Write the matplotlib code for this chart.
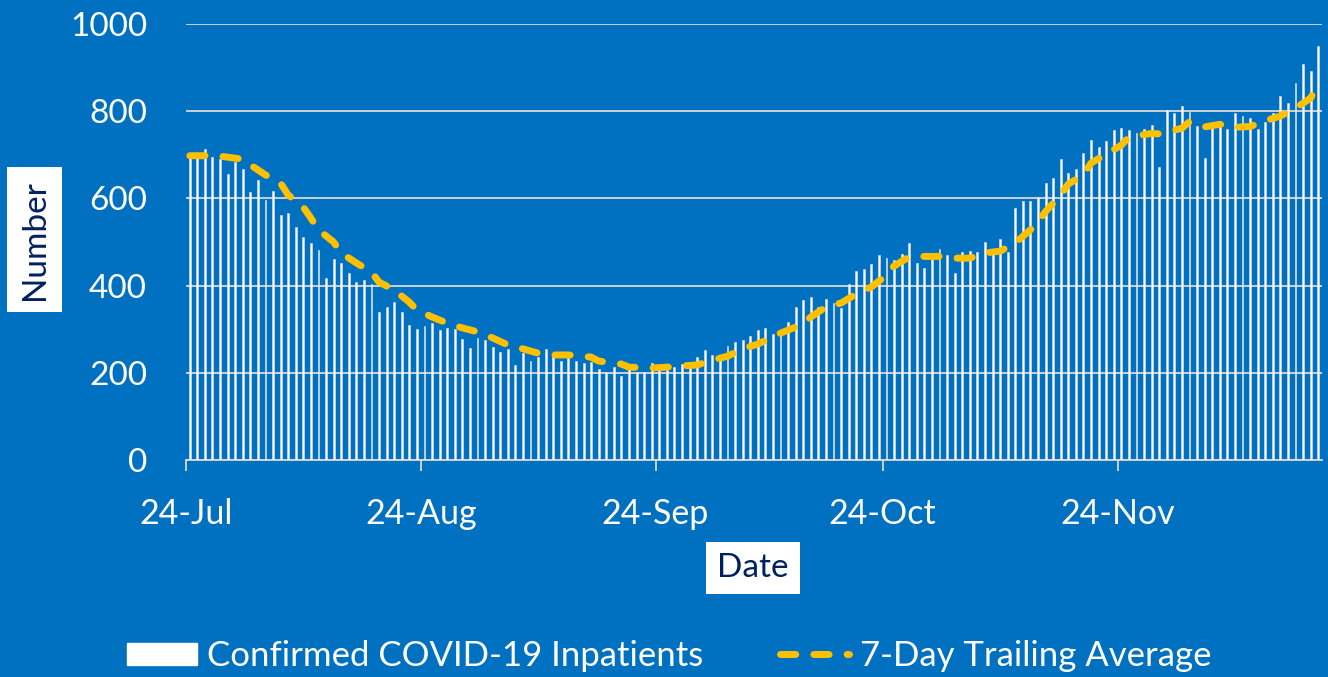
import matplotlib
matplotlib.use('Agg')
import numpy as np
import matplotlib.pyplot as plt
from matplotlib.patches import Patch
from matplotlib.lines import Line2D

# daily confirmed inpatients, 24-Jul .. 20-Dec
inpatients = [
    700, 700, 713, 694, 690, 656, 684, 667, 614, 642,
    596, 618, 563, 566, 535, 511, 497, 481, 417, 461,
    452, 430, 408, 412, 404, 340, 352, 362, 340, 310,
    300, 307, 315, 298, 303, 300, 277, 257, 279, 275,
    260, 248, 255, 217, 245, 226, 237, 255, 245, 226,
    233, 228, 222, 224, 209, 201, 213, 193, 208, 203,
    203, 222, 206, 207, 214, 220, 225, 237, 252, 242,
    242, 261, 271, 276, 284, 298, 302, 290, 287, 317,
    350, 366, 375, 352, 369, 360, 349, 403, 434, 439,
    450, 471, 464, 459, 472, 497, 452, 441, 462, 485,
    470, 428, 477, 479, 477, 499, 472, 508, 478, 578,
    595, 595, 603, 635, 648, 690, 658, 667, 704, 735,
    718, 731, 756, 761, 757, 750, 759, 768, 671, 803,
    797, 811, 798, 765, 693, 770, 765, 760, 797, 788,
    784, 760, 775, 797, 834, 819, 864, 908, 892, 950,
]

# 7-day trailing average (day offset, value)
avg_day = [0, 2, 4, 7, 8, 10, 12, 13, 15, 16, 17, 19, 20, 22, 24, 25, 27, 29, 30, 32,
           34, 36, 38, 40, 42, 44, 46, 48, 50, 53, 54, 57, 58, 61, 63, 65, 67, 69, 71, 73,
           75, 77, 78, 81, 82, 84, 86, 88, 90, 92, 93, 95, 97, 99, 101, 103, 105, 107, 109, 111,
           112, 113, 115, 116, 118, 119, 121, 123, 124, 127, 128, 131, 132, 134, 136, 138, 140, 142, 144, 146,
           148, 149]
avg_val = [698, 698, 697, 690, 677, 654, 635, 608, 580, 555, 528, 500, 475, 452, 431, 408, 390, 362, 344, 328,
           314, 303, 294, 280, 264, 255, 245, 241, 241, 236, 227, 220, 213, 211, 213, 216, 218, 229, 238, 255,
           266, 282, 291, 312, 328, 351, 360, 381, 397, 424, 445, 466, 467, 467, 463, 463, 475, 479, 498, 528,
           546, 570, 608, 633, 654, 681, 702, 722, 741, 749, 748, 761, 776, 764, 770, 763, 765, 778, 789, 807,
           830, 866]

tick_days = [0, 31, 62, 92, 123]
tick_labels = ['24-Jul', '24-Aug', '24-Sep', '24-Oct', '24-Nov']

BG = '#0070C0'
GOLD = '#FFC000'
NAVY = '#002060'
DASH = (2.2, 2.6)
plt.rcParams['font.family'] = ['Lato', 'DejaVu Sans']

fig = plt.figure(figsize=(13.28, 6.77), dpi=100, facecolor=BG)
ax = fig.add_axes([0.140, 0.3205, 0.8555, 0.644])
ax.set_facecolor(BG)

days = np.arange(len(inpatients))
ax.bar(days, inpatients, width=0.25, color='white', edgecolor='#E0E0E0', linewidth=0.4, zorder=3)
ax.plot(avg_day, avg_val, color=GOLD, lw=5, dashes=DASH,
        dash_capstyle='round', solid_capstyle='round', zorder=4)

ax.set_xlim(-0.5, len(inpatients) - 0.5)
ax.set_ylim(0, 1000)
ax.set_yticks(range(0, 1001, 200))
ax.set_xticks([d - 0.5 for d in tick_days])
ax.set_xticklabels(tick_labels)
ax.grid(axis='y', color='#D9D9D9', lw=1.3, zorder=1)
ax.set_axisbelow(True)
for s in ['top', 'right', 'left']:
    ax.spines[s].set_visible(False)
ax.spines['bottom'].set_color('#D9D9D9')
ax.spines['bottom'].set_linewidth(1.3)
ax.tick_params(axis='y', length=0, pad=28, labelsize=24, labelcolor='white')
ax.tick_params(axis='x', length=8, width=1.3, color='#D9D9D9', pad=19, labelsize=24.5, labelcolor='white')

fig.text(0.026, 0.646, 'Number', rotation=90, ha='center', va='center', fontsize=24, color=NAVY,
         bbox=dict(facecolor='white', edgecolor='none', pad=9))
fig.text(0.567, 0.161, 'Date', ha='center', va='center', fontsize=24, color=NAVY,
         bbox=dict(facecolor='white', edgecolor='none', pad=8))

handles = [Patch(facecolor='white', edgecolor='white'),
           Line2D([], [], color=GOLD, lw=5, dashes=DASH, dash_capstyle='round')]
fig.legend(handles, ['Confirmed COVID-19 Inpatients', '7-Day Trailing Average'],
           loc='center', bbox_to_anchor=(0.504, 0.031), ncol=2, frameon=False,
           fontsize=25, labelcolor='white', handlelength=2.0, handleheight=0.6,
           handletextpad=0.3, columnspacing=2.2)

fig.savefig('out.png', dpi=100, facecolor=BG)
